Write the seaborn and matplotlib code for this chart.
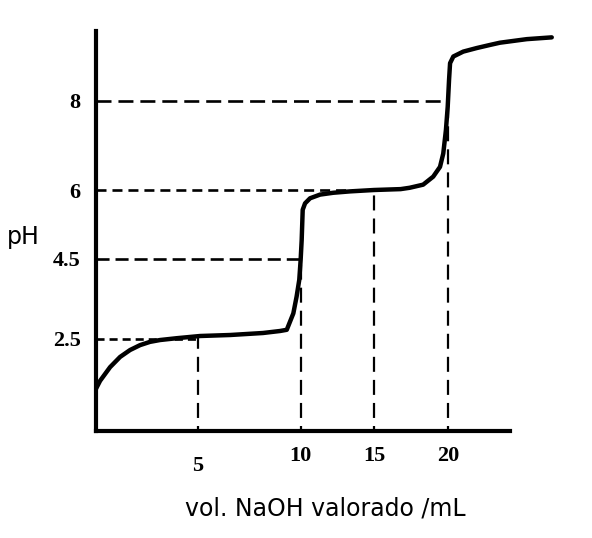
import numpy as np
import matplotlib
matplotlib.use("Agg")
import matplotlib.pyplot as plt
import seaborn as sns
from matplotlib.transforms import ScaledTranslation

# Curva de valoración (vol NaOH en mL, pH)
vol = [0, 0.2, 0.69, 1.18, 1.67, 2.16, 2.65, 3.14, 3.96, 5.1,
       6.57, 8.17, 9.0, 9.33, 9.65, 9.81, 9.94, 10.01, 10.08, 10.15,
       10.31, 10.65, 11.33, 12.23, 13.37, 15.0, 16.8, 17.41, 18.32, 19.0,
       19.46, 19.68, 19.86, 19.98, 20.07, 20.14, 20.36, 21.03, 21.94, 22.84,
       23.51, 25.32, 27.01]
ph = [1.28, 1.475, 1.81, 2.06, 2.23, 2.35, 2.43, 2.475, 2.52, 2.575,
      2.6, 2.65, 2.7, 2.73, 3.14, 3.56, 3.98, 4.48, 4.91, 5.57,
      5.71, 5.82, 5.9, 5.94, 5.97, 6.0, 6.02, 6.05, 6.12, 6.3,
      6.52, 6.82, 7.35, 7.87, 8.47, 8.85, 9.0, 9.11, 9.19, 9.26,
      9.31, 9.39, 9.43]

# Marcas de los ejes y hasta dónde llegan las líneas guía
ph_marks = [2.5, 4.5, 6, 8]
ph_labels = ["2.5", "4.5", "6", "8"]
ph_line_end = [5, 10, 15, 20]       # vol donde termina cada línea horizontal
vol_marks = [5, 10, 15, 20]
vol_labels = ["5", "10", "15", "20"]
vol_line_top = [2.55, 4.5, 6, 8]    # pH donde termina cada línea vertical

# Escalas del dibujo original (no son lineales): valor -> posición en px
vol_bp = [0, 5, 10, 15, 20, 30]
vol_px = [96, 198, 300.5, 374, 448, 596]
ph_bp = [0, 2.5, 4.5, 6, 8, 11]
ph_px = [441, 339, 259, 190, 101, -32.5]


def fwd_x(v):
    return np.interp(v, vol_bp, vol_px)


def inv_x(p):
    return np.interp(p, vol_px, vol_bp)


def fwd_y(v):
    return -np.interp(v, ph_bp, ph_px)


def inv_y(p):
    return np.interp(-np.asarray(p), ph_px[::-1], ph_bp[::-1])


sns.set_style("white")
plt.rcParams["lines.scale_dashes"] = False
plt.rcParams["text.color"] = "black"

fig = plt.figure(figsize=(5.92, 5.38), dpi=100)
ax = fig.add_axes([96 / 592, (538 - 431) / 538, 470 / 592, 400 / 538])
ax.set_xscale("function", functions=(fwd_x, inv_x))
ax.set_yscale("function", functions=(fwd_y, inv_y))

# líneas guía
h_dashes = [(5.8, 3.6), (9.4, 4.3), (7.2, 4.3), (10.8, 5.0)]
for y, xe, d in zip(ph_marks, ph_line_end, h_dashes):
    ax.plot([0, xe], [y, y], color="black", lw=1.9, dashes=d, zorder=1)
for x, yt in zip(vol_marks, vol_line_top):
    ax.plot([x, x], [0, yt], color="black", lw=1.6, dashes=(10.8, 5.8), zorder=1)

sns.lineplot(x=vol, y=ph, ax=ax, color="black", lw=3.2, sort=False,
             estimator=None, zorder=3, solid_joinstyle="round",
             solid_capstyle="round")

ax.set_xlim(0, float(inv_x(566)))
ax.set_ylim(float(inv_y(-431)), float(inv_y(-31)))

for side in ["top", "right"]:
    ax.spines[side].set_visible(False)
for side in ["left", "bottom"]:
    ax.spines[side].set_linewidth(3)
    ax.spines[side].set_color("black")
ax.spines["bottom"].set_bounds(0, float(inv_x(510)))

tick_font = dict(family="Liberation Serif", weight="bold", size=16)
ax.set_xticks(vol_marks)
ax.set_xticklabels(vol_labels, color="black", **tick_font)
ax.set_yticks(ph_marks)
ax.set_yticklabels(ph_labels, color="black", **tick_font)
ax.tick_params(axis="both", length=0)
ax.tick_params(axis="x", pad=11)
ax.tick_params(axis="y", pad=11)
ax.minorticks_off()
# el "5" está algo más abajo en el original
lab5 = ax.get_xticklabels()[0]
lab5.set_transform(lab5.get_transform() + ScaledTranslation(0, -7 / 72, fig.dpi_scale_trans))

ax.set_xlabel("vol. NaOH valorado /mL", family="DejaVu Sans", size=17, color="black")
ax.xaxis.set_label_coords((325 - 96) / 470, (431 - 508) / 400)
ax.xaxis.label.set_va("center")
ax.set_ylabel("pH", family="DejaVu Sans", size=17, rotation=0, color="black")
ax.yaxis.set_label_coords((23 - 96) / 470, (431 - 237) / 400)
ax.yaxis.label.set_va("center")
ax.yaxis.label.set_ha("center")

fig.savefig("out.png", dpi=100)
